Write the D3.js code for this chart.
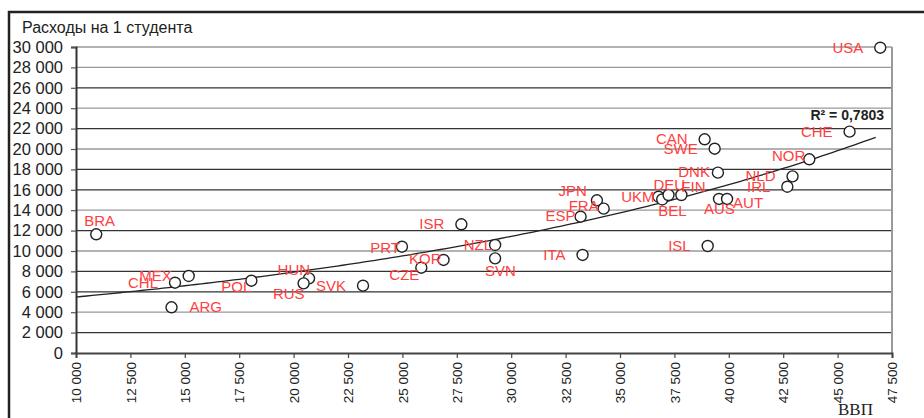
<!DOCTYPE html>
<html>
<head>
<meta charset="utf-8">
<script src="https://cdn.jsdelivr.net/npm/d3@7"></script>
<style>
  html, body { margin: 0; padding: 0; background: #fff; }
  svg { display: block; font-family: 'Liberation Sans', Arial, sans-serif; }
</style>
</head>
<body>
<div id="chart"></div>
<script>
// Countries, GDP per capita (x) and spending per student (y)
const countries = ['USA', 'CHE', 'NOR', 'NLD', 'IRL', 'CAN', 'SWE', 'DNK', 'UKM', 'BEL', 'DEU', 'FIN',
  'AUS', 'AUT', 'JPN', 'FRA', 'ESP', 'ISR', 'PRT', 'NZL', 'SVN', 'ITA', 'KOR', 'CZE', 'SVK', 'HUN',
  'RUS', 'ISL', 'BRA', 'MEX', 'CHL', 'ARG', 'POL'];
const gdp = [46960, 45550, 43700, 42930, 42690, 38890, 39350, 39500, 36770, 36940, 37230, 37820,
  39550, 39920, 33940, 34250, 33190, 27710, 24980, 29260, 29260, 33280, 26890, 25870, 23190, 20710,
  20460, 39030, 10930, 15180, 14550, 14390, 18060];
const spending = [29930, 21700, 18990, 17320, 16300, 20950, 20030, 17680, 15320, 15050, 15490, 15490,
  15100, 15100, 14970, 14150, 13360, 12620, 10420, 10590, 9280, 9610, 9120, 8360, 6600, 7320,
  6830, 10490, 11640, 7550, 6890, 4480, 7090];

const xTicks = [10000, 12500, 15000, 17500, 20000, 22500, 25000, 27500, 30000, 32500, 35000, 37500, 40000, 42500, 45000, 47500];
const yTicks = [0, 2000, 4000, 6000, 8000, 10000, 12000, 14000, 16000, 18000, 20000, 22000, 24000, 26000, 28000, 30000];
const lightGrid = [4000, 10000, 14000, 20000, 24000, 28000, 30000];

// label placement: [anchor, dx, dy]
const labelPos = {
  NOR: ['end', -4, 2], DNK: ['end', -8, 4], DEU: ['start', -15, -5], FIN: ['start', 0, -3],
  UKM: ['end', -4, 5], BEL: ['start', -4, 17], AUS: ['start', -15, 15], AUT: ['start', 6, 9],
  JPN: ['end', -10, -4], FRA: ['end', -5, 2], ESP: ['end', -5, 4], PRT: ['end', -2, 6],
  NZL: ['end', -3, 5], SVN: ['start', -10, 18], KOR: ['end', -2, 4], CZE: ['end', -2, 12],
  HUN: ['end', 1, -3], RUS: ['end', 1, 16], BRA: ['start', -12, -8], ARG: ['start', 18, 5],
  POL: ['end', 0, 11]
};

const width = 924;
const height = 418;
const margin = { top: 47, right: 32, bottom: 65, left: 76 };

const svg = d3.select('#chart').append('svg')
  .attr('width', width)
  .attr('height', height);

const x = d3.scaleLinear().domain([10000, 47500]).range([margin.left, width - margin.right]);
const y = d3.scaleLinear().domain([0, 30000]).range([height - margin.bottom, margin.top]);

const locale = d3.formatLocale({ decimal: ',', thousands: '\u00a0', grouping: [3], currency: ['', ''] });
const fmt = locale.format(',');

// outer frame
svg.append('path')
  .attr('d', `M9,${height + 5}V12H${width + 5}`)
  .attr('fill', 'none')
  .attr('stroke', '#222')
  .attr('stroke-width', 2.5);

svg.append('text')
  .attr('x', 22).attr('y', 33)
  .attr('font-size', 16)
  .attr('fill', '#222')
  .text('Расходы на 1 студента');

// gridlines
svg.append('g')
  .selectAll('line')
  .data(yTicks.filter(d => d > 0))
  .join('line')
  .attr('x1', x(10000)).attr('x2', x(47500))
  .attr('y1', d => y(d)).attr('y2', d => y(d))
  .attr('stroke', d => lightGrid.includes(d) ? '#999' : '#333')
  .attr('stroke-width', 1.3);

// right border of plot area
svg.append('line')
  .attr('x1', x(47500)).attr('x2', x(47500))
  .attr('y1', y(30000)).attr('y2', y(0))
  .attr('stroke', '#999').attr('stroke-width', 2);

// y axis
const yAxis = svg.append('g')
  .attr('transform', `translate(${x(10000)},0)`)
  .call(d3.axisLeft(y).tickValues(yTicks).tickFormat(fmt).tickSize(5).tickPadding(8));
yAxis.select('.domain').attr('stroke', '#333').attr('stroke-width', 2);
yAxis.selectAll('.tick line').attr('stroke', '#555').attr('stroke-width', 1.2);
yAxis.selectAll('text').attr('font-size', 16.5).attr('fill', '#222').attr('font-family', 'Liberation Sans, Arial, sans-serif');

// x axis
const xAxis = svg.append('g')
  .attr('transform', `translate(0,${y(0)})`)
  .call(d3.axisBottom(x).tickValues(xTicks).tickFormat(fmt).tickSize(5));
xAxis.select('.domain').attr('stroke', '#444').attr('stroke-width', 2);
xAxis.selectAll('.tick line').attr('stroke', '#444').attr('stroke-width', 1.2);
xAxis.selectAll('text')
  .attr('font-size', 13.5)
  .attr('fill', '#222')
  .attr('font-family', 'Liberation Sans, Arial, sans-serif')
  .attr('transform', 'rotate(-90)')
  .attr('text-anchor', 'end')
  .attr('x', -9)
  .attr('y', 0)
  .attr('dy', '0.35em');

// exponential trend (least squares on ln y)
const lny = spending.map(Math.log);
const mx = d3.mean(gdp), my = d3.mean(lny);
const b = d3.sum(gdp, (g, i) => (g - mx) * (lny[i] - my)) / d3.sum(gdp, g => (g - mx) ** 2);
const a = Math.exp(my - b * mx);
const trendX = d3.range(10000, d3.max(gdp) + 1, 250);
svg.append('path')
  .datum(trendX)
  .attr('fill', 'none')
  .attr('stroke', '#222')
  .attr('stroke-width', 1.3)
  .attr('d', d3.line().x(d => x(d)).y(d => y(a * Math.exp(b * d))));

svg.append('text')
  .attr('x', 884).attr('y', 120)
  .attr('text-anchor', 'end')
  .attr('font-size', 14)
  .attr('font-weight', 'bold')
  .attr('fill', '#222')
  .text('R² = 0,7803');

// points
const pts = svg.append('g');
pts.selectAll('circle')
  .data(countries)
  .join('circle')
  .attr('cx', (d, i) => x(gdp[i]))
  .attr('cy', (d, i) => y(spending[i]))
  .attr('r', 5.5)
  .attr('fill', '#fff')
  .attr('stroke', '#222')
  .attr('stroke-width', 1.4);

pts.selectAll('text')
  .data(countries)
  .join('text')
  .attr('x', (d, i) => x(gdp[i]) + (labelPos[d] ? labelPos[d][1] : -17))
  .attr('y', (d, i) => y(spending[i]) + (labelPos[d] ? labelPos[d][2] : 5))
  .attr('text-anchor', d => labelPos[d] ? labelPos[d][0] : 'end')
  .attr('font-size', 15)
  .attr('fill', '#ff4040')
  .text(d => d);

svg.append('text')
  .attr('x', 838).attr('y', 415)
  .attr('font-family', 'Liberation Serif, Times New Roman, serif')
  .attr('font-size', 17)
  .attr('fill', '#222')
  .text('ВВП');
</script>
</body>
</html>
